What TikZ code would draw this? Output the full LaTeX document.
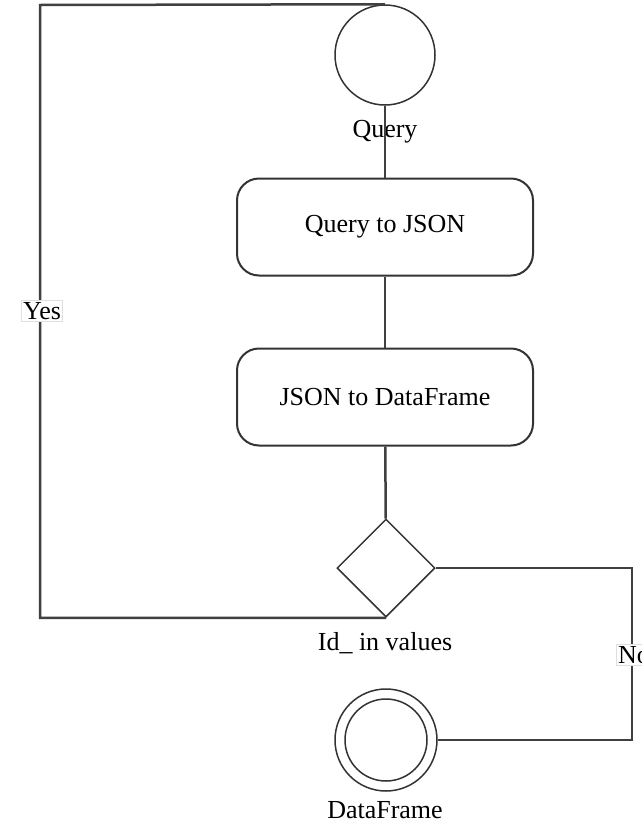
\documentclass[tikz,border=0pt]{standalone}
\usepackage{fontspec}
\setmainfont{Liberation Serif}
\usetikzlibrary{shapes.geometric,positioning}
\begin{document}
\begin{tikzpicture}[x=1pt, y=-1pt,
		every node/.style={font=\fontsize{26}{30}\selectfont},
		state/.style={circle, draw=black!80, line width=1.5pt, minimum size=100pt, inner sep=0pt},
		final/.style={circle, draw=black!80, line width=1.5pt, minimum size=102pt, inner sep=0pt},
		action/.style={rounded corners=22pt, draw=black!80, line width=2pt, minimum width=296pt, minimum height=97pt},
		choice/.style={diamond, draw=black!80, line width=1.5pt, minimum size=98pt, inner sep=0pt},
		tag/.style={fill=white, draw=gray!25, line width=1pt, inner sep=2pt},
		link/.style={draw=black!75, line width=2.5pt}]

		\useasboundingbox[fill=white] (0,0) rectangle (641,825);

		\node[state] (query) at (385,55) {};
		\node (querytext) at (385,132) {Query};
		\node[action] (tojson) at (385,227) {Query to JSON};
		\node[action] (todf) at (385,397) {JSON to DataFrame};
		\node[choice] (check) at (386,568) {};
		\node (checktext) at (385,643) {Id\_ in values};
		\node[final] (result) at (386,740) {};
		\draw[black!80, line width=1.5pt] (result) circle (41pt);
		\node (resulttext) at (385,810) {DataFrame};

		\coordinate (yescorner) at (40,5);
		\coordinate (nocorner) at (632,568);

		\draw[link] (query) -- (tojson);
		\draw[link] (tojson) -- (todf);
		\draw[link] (todf) -- (check);
		\draw[link] (check.south) -| (yescorner) -- (query.north);
		\draw[link] (check.east) -- (nocorner) |- (result.east);

		\node[tag] (yes) at (42,311) {Yes};
		\node[tag] (no) at (634,655) {No};
	\end{tikzpicture}
\end{document}
